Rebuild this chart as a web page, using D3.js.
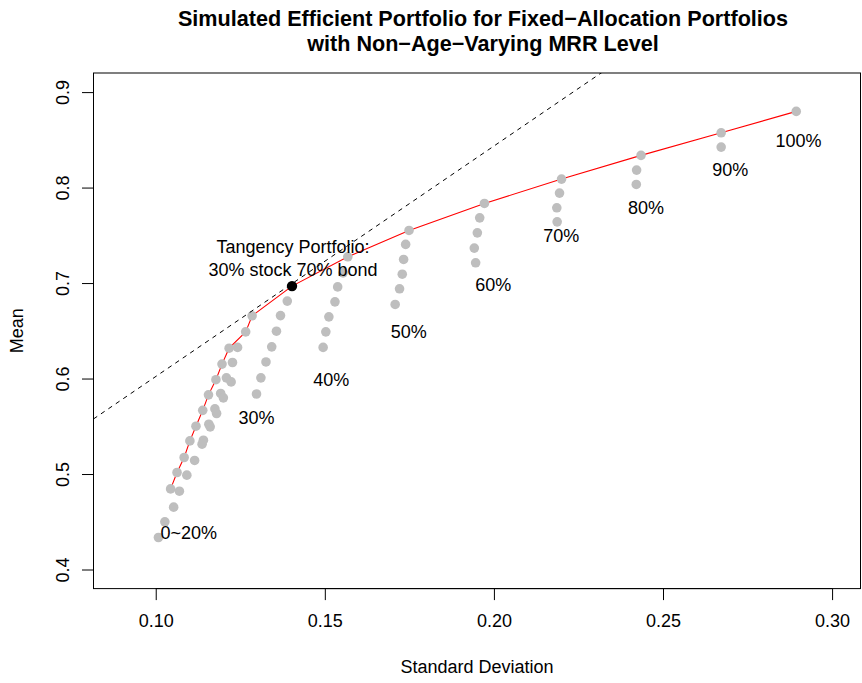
<!DOCTYPE html>
<html>
<head>
<meta charset="utf-8">
<script src="https://cdn.jsdelivr.net/npm/d3@7"></script>
<style>
  body { margin: 0; background: #ffffff; }
  svg { display: block; }
  text { font-family: "Liberation Sans", Arial, Helvetica, sans-serif; }
</style>
</head>
<body>
<svg id="chart" width="862" height="683"></svg>
<script>
// ---------------- data ----------------
const titleLines = ["Simulated Efficient Portfolio for Fixed\u2212Allocation Portfolios",
                    "with Non\u2212Age\u2212Varying MRR Level"];
const xLabel = "Standard Deviation";
const yLabel = "Mean";
const xLimits = [0.09, 0.30];
const yLimits = [0.40, 0.90];
const xTicks = [0.10, 0.15, 0.20, 0.25, 0.30];
const xTickLabels = ["0.10", "0.15", "0.20", "0.25", "0.30"];
const yTicks = [0.4, 0.5, 0.6, 0.7, 0.8, 0.9];
const yTickLabels = ["0.4", "0.5", "0.6", "0.7", "0.8", "0.9"];

// simulated fixed-allocation portfolios (grey points)
const pointSD = [
  // 100%
  0.2894,
  // 90%
  0.2672, 0.2672,
  // 80%
  0.2435, 0.2422, 0.2421,
  // 70%
  0.2200, 0.2194, 0.2186, 0.2187,
  // 60%
  0.1972, 0.1958, 0.1951, 0.1942, 0.1946,
  // 50%
  0.1749, 0.1739, 0.1733, 0.1729, 0.1721, 0.1708,
  // 40%
  0.1568, 0.1554, 0.1538, 0.1530, 0.1512, 0.1503, 0.1495,
  // 30%
  0.1403, 0.1389, 0.1369, 0.1357, 0.1343, 0.1326, 0.1311, 0.1298,
  // 0~20%
  0.1285, 0.1266, 0.1217, 0.1196, 0.1178, 0.1156, 0.1139, 0.1119, 0.1101, 0.1084, 0.1063, 0.1044,
  0.1242, 0.1227, 0.1209, 0.1223, 0.1192, 0.1200, 0.1175, 0.1180, 0.1157, 0.1161, 0.1141, 0.1137,
  0.1115, 0.1092, 0.1070,
  0.1053, 0.1027, 0.1008
];
const pointMean = [
  0.8798,
  0.8574, 0.8424,
  0.8337, 0.8183, 0.8033,
  0.8089, 0.7942, 0.7788, 0.7641,
  0.7834, 0.7683, 0.7526, 0.7366, 0.7212,
  0.7551, 0.7405, 0.7247, 0.7093, 0.6940, 0.6776,
  0.7275, 0.7107, 0.6960, 0.6803, 0.6646, 0.6489, 0.6326,
  0.6968, 0.6811, 0.6659, 0.6496, 0.6332, 0.6174, 0.6007, 0.5838,
  0.6657, 0.6489, 0.6318, 0.6151, 0.5988, 0.5829, 0.5667, 0.5501, 0.5347, 0.5173, 0.5016, 0.4844,
  0.6326, 0.6168, 0.6007, 0.5965, 0.5844, 0.5798, 0.5682, 0.5634, 0.5522, 0.5494, 0.5354, 0.5313,
  0.5142, 0.4988, 0.4820,
  0.4653, 0.4499, 0.4335
];

// efficient frontier (red line)
const frontierSD = [0.1044, 0.1063, 0.1084, 0.1101, 0.1119, 0.1139, 0.1156, 0.1178, 0.1196, 0.1217,
                    0.1266, 0.1285, 0.1403, 0.1568, 0.1749, 0.1972, 0.2200, 0.2435, 0.2672, 0.2894];
const frontierMean = [0.4844, 0.5016, 0.5173, 0.5347, 0.5501, 0.5667, 0.5829, 0.5988, 0.6151, 0.6318,
                      0.6489, 0.6657, 0.6968, 0.7275, 0.7551, 0.7834, 0.8089, 0.8337, 0.8574, 0.8798];

// tangency portfolio and capital market line (intercept, slope)
const tangencySD = 0.1403;
const tangencyMean = 0.6968;
const cmlIntercept = 0.3607;
const cmlSlope = 2.414;

// allocation labels
const labelText = ["0~20%", "30%", "40%", "50%", "60%", "70%", "80%", "90%", "100%"];
const labelSD   = [0.1098, 0.1298, 0.1519, 0.1748, 0.1998, 0.2199, 0.2450, 0.2699, 0.2901];
const labelMean = [0.4391, 0.5592, 0.5990, 0.6489, 0.6986, 0.7492, 0.7792, 0.8190, 0.8490];
const tangencyText = ["Tangency Portfolio:", "30% stock 70% bond"];
const tangencyTextMean = [0.7387, 0.7143];

// ---------------- drawing ----------------
const W = 862, H = 683;
const plot = { left: 93.5, right: 860.5, top: 73, bottom: 588.6 };
const baseFont = 18;
const titleCenterX = 483;

const svg = d3.select("#chart");
svg.append("rect").attr("width", W).attr("height", H).attr("fill", "#ffffff");

const xPad = (xLimits[1] - xLimits[0]) * 0.04;
const yPad = (yLimits[1] - yLimits[0]) * 0.04;
const x = d3.scaleLinear().domain([xLimits[0] - xPad, xLimits[1] + xPad]).range([plot.left, plot.right]);
const y = d3.scaleLinear().domain([yLimits[0] - yPad, yLimits[1] + yPad]).range([plot.bottom, plot.top]);

svg.append("clipPath").attr("id", "plotclip")
  .append("rect").attr("x", plot.left).attr("y", plot.top)
  .attr("width", plot.right - plot.left).attr("height", plot.bottom - plot.top);

const g = svg.append("g").attr("clip-path", "url(#plotclip)");

// red frontier line
const frontier = frontierSD.map((d, i) => [d, frontierMean[i]]);
g.append("path")
  .attr("d", d3.line().x(d => x(d[0])).y(d => y(d[1]))(frontier))
  .attr("fill", "none").attr("stroke", "#ff0000").attr("stroke-width", 1.1);

// grey points
g.selectAll("circle.pt").data(pointSD.map((d, i) => [d, pointMean[i]])).enter()
  .append("circle").attr("class", "pt")
  .attr("cx", d => x(d[0])).attr("cy", d => y(d[1])).attr("r", 4.8)
  .attr("fill", "#bebebe");

// capital market line (dashed)
const xd = x.domain();
g.append("line")
  .attr("x1", x(xd[0])).attr("y1", y(cmlIntercept + cmlSlope * xd[0]))
  .attr("x2", x(xd[1])).attr("y2", y(cmlIntercept + cmlSlope * xd[1]))
  .attr("stroke", "#000").attr("stroke-width", 1).attr("stroke-dasharray", "4.5,4.5");

// tangency point
g.append("circle").attr("cx", x(tangencySD)).attr("cy", y(tangencyMean)).attr("r", 5.2).attr("fill", "#000");

// labels
labelText.forEach((t, i) => {
  svg.append("text").attr("x", x(labelSD[i])).attr("y", y(labelMean[i]) + 6.4)
    .attr("text-anchor", "middle").attr("font-size", baseFont).attr("fill", "#000").text(t);
});
tangencyText.forEach((t, i) => {
  svg.append("text").attr("x", x(tangencySD) + 1).attr("y", y(tangencyTextMean[i]) + 6.4)
    .attr("text-anchor", "middle").attr("font-size", baseFont).attr("fill", "#000").text(t);
});

// box
svg.append("rect").attr("x", plot.left).attr("y", plot.top)
  .attr("width", plot.right - plot.left).attr("height", plot.bottom - plot.top)
  .attr("fill", "none").attr("stroke", "#000").attr("stroke-width", 1);

// x axis
const xAxis = d3.axisBottom(x).tickValues(xTicks).tickSize(11.5).tickPadding(0)
  .tickFormat((d, i) => xTickLabels[i]);
const gx = svg.append("g").attr("transform", `translate(0,${plot.bottom})`).call(xAxis);
gx.select(".domain").attr("d", `M${x(xTicks[0])},0H${x(xTicks[xTicks.length - 1])}`).attr("stroke", "#000");
gx.selectAll(".tick line").attr("stroke", "#000");
gx.selectAll(".tick text").attr("font-size", baseFont).attr("fill", "#000")
  .attr("font-family", "Liberation Sans, Arial, sans-serif")
  .attr("dy", null).attr("y", 627.5 - plot.bottom);

// y axis
const yAxis = d3.axisLeft(y).tickValues(yTicks).tickSize(11.5).tickPadding(0)
  .tickFormat((d, i) => yTickLabels[i]);
const gy = svg.append("g").attr("transform", `translate(${plot.left},0)`).call(yAxis);
gy.select(".domain").attr("d", `M0,${y(yTicks[0])}V${y(yTicks[yTicks.length - 1])}`).attr("stroke", "#000");
gy.selectAll(".tick line").attr("stroke", "#000");
gy.selectAll(".tick text").attr("font-size", baseFont).attr("fill", "#000")
  .attr("font-family", "Liberation Sans, Arial, sans-serif")
  .attr("x", null).attr("dy", null).attr("text-anchor", "middle")
  .attr("transform", `translate(${68.5 - plot.left},0) rotate(-90)`)
  .attr("y", 0);

// axis titles
svg.append("text").attr("x", 477).attr("y", 672.5)
  .attr("text-anchor", "middle").attr("font-size", baseFont).text(xLabel);
svg.append("text").attr("transform", `translate(22.5,${(plot.top + plot.bottom) / 2}) rotate(-90)`)
  .attr("text-anchor", "middle").attr("font-size", baseFont).text(yLabel);

// title
titleLines.forEach((t, i) => {
  svg.append("text").attr("x", titleCenterX).attr("y", 25.7 + i * 25)
    .attr("text-anchor", "middle").attr("font-size", baseFont * 1.2).attr("font-weight", "bold").text(t);
});
</script>
</body>
</html>
